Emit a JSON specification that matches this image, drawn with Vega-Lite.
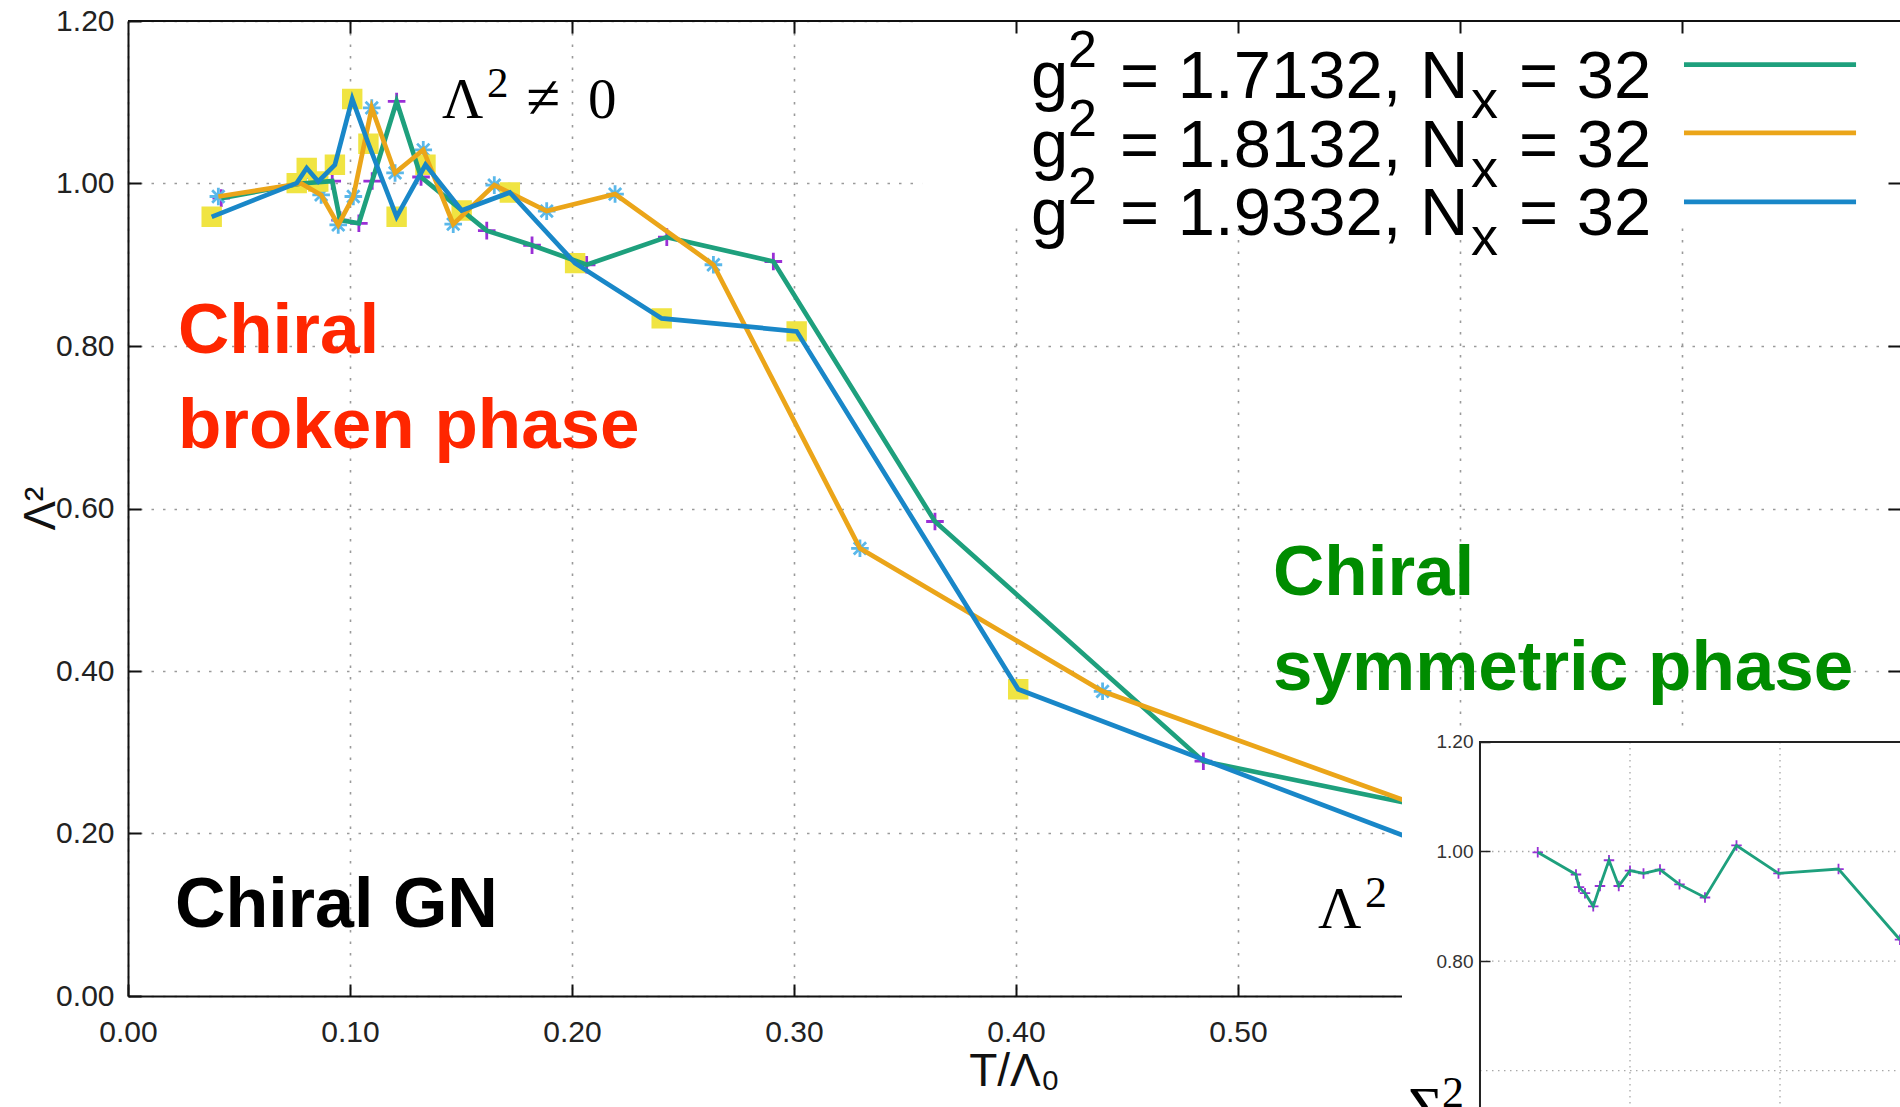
{
  "$schema": "https://vega.github.io/schema/vega-lite/v6.json",
  "width": 1772,
  "height": 975,
  "autosize": {"type": "none"},
  "padding": {"left": 128, "top": 21, "right": 0, "bottom": 111},
  "background": "white",
  "config": {
    "view": {"stroke": null, "fill": "white"},
    "font": "Liberation Sans"
  },
  "datasets": {
    "main": [
      {"series": "1.7132", "T": 0.042, "L2": 0.982},
      {"series": "1.7132", "T": 0.078, "L2": 1.0},
      {"series": "1.7132", "T": 0.092, "L2": 1.003},
      {"series": "1.7132", "T": 0.0955, "L2": 0.955},
      {"series": "1.7132", "T": 0.104, "L2": 0.951},
      {"series": "1.7132", "T": 0.11, "L2": 1.003},
      {"series": "1.7132", "T": 0.121, "L2": 1.101},
      {"series": "1.7132", "T": 0.132, "L2": 1.008},
      {"series": "1.7132", "T": 0.1616, "L2": 0.942},
      {"series": "1.7132", "T": 0.182, "L2": 0.924},
      {"series": "1.7132", "T": 0.2066, "L2": 0.9},
      {"series": "1.7132", "T": 0.2427, "L2": 0.934},
      {"series": "1.7132", "T": 0.2907, "L2": 0.904},
      {"series": "1.7132", "T": 0.3635, "L2": 0.584},
      {"series": "1.7132", "T": 0.4844, "L2": 0.289},
      {"series": "1.7132", "T": 0.6, "L2": 0.224},
      {"series": "1.8132", "T": 0.0407, "L2": 0.984},
      {"series": "1.8132", "T": 0.078, "L2": 1.0},
      {"series": "1.8132", "T": 0.087, "L2": 0.986},
      {"series": "1.8132", "T": 0.0947, "L2": 0.949},
      {"series": "1.8132", "T": 0.1015, "L2": 0.984},
      {"series": "1.8132", "T": 0.1098, "L2": 1.093},
      {"series": "1.8132", "T": 0.1203, "L2": 1.013},
      {"series": "1.8132", "T": 0.133, "L2": 1.0415},
      {"series": "1.8132", "T": 0.1465, "L2": 0.95},
      {"series": "1.8132", "T": 0.165, "L2": 0.998},
      {"series": "1.8132", "T": 0.1886, "L2": 0.966},
      {"series": "1.8132", "T": 0.2194, "L2": 0.987},
      {"series": "1.8132", "T": 0.2637, "L2": 0.9},
      {"series": "1.8132", "T": 0.3297, "L2": 0.551},
      {"series": "1.8132", "T": 0.439, "L2": 0.375},
      {"series": "1.8132", "T": 0.6, "L2": 0.216},
      {"series": "1.9332", "T": 0.0377, "L2": 0.959},
      {"series": "1.9332", "T": 0.076, "L2": 1.0005},
      {"series": "1.9332", "T": 0.0805, "L2": 1.019},
      {"series": "1.9332", "T": 0.0857, "L2": 1.0025},
      {"series": "1.9332", "T": 0.0932, "L2": 1.023},
      {"series": "1.9332", "T": 0.101, "L2": 1.104},
      {"series": "1.9332", "T": 0.1083, "L2": 1.049},
      {"series": "1.9332", "T": 0.121, "L2": 0.959},
      {"series": "1.9332", "T": 0.134, "L2": 1.023},
      {"series": "1.9332", "T": 0.1503, "L2": 0.9667},
      {"series": "1.9332", "T": 0.172, "L2": 0.989},
      {"series": "1.9332", "T": 0.2014, "L2": 0.902},
      {"series": "1.9332", "T": 0.2404, "L2": 0.834},
      {"series": "1.9332", "T": 0.3012, "L2": 0.818},
      {"series": "1.9332", "T": 0.401, "L2": 0.3775},
      {"series": "1.9332", "T": 0.6, "L2": 0.171}
    ],
    "inset": [
      {"T": 0.0385, "S2": 0.9985},
      {"T": 0.064, "S2": 0.958},
      {"T": 0.066, "S2": 0.935},
      {"T": 0.07, "S2": 0.924},
      {"T": 0.0755, "S2": 0.9},
      {"T": 0.08, "S2": 0.937},
      {"T": 0.086, "S2": 0.984},
      {"T": 0.0925, "S2": 0.937},
      {"T": 0.1, "S2": 0.965},
      {"T": 0.109, "S2": 0.96},
      {"T": 0.12, "S2": 0.967},
      {"T": 0.133, "S2": 0.94},
      {"T": 0.15, "S2": 0.916},
      {"T": 0.171, "S2": 1.011},
      {"T": 0.199, "S2": 0.96},
      {"T": 0.239, "S2": 0.968},
      {"T": 0.28, "S2": 0.839}
    ]
  },
  "resolve": {"scale": {"x": "independent", "y": "independent"}},
  "layer": [
    {
      "layer": [
        {
          "data": {"values": [{}]},
          "mark": {"type": "rect", "fill": "white"},
          "encoding": {
            "x": {"datum": 0.3577, "type": "quantitative"},
            "x2": {"datum": 0.7982},
            "y": {"datum": 0.9455, "type": "quantitative"},
            "y2": {"datum": 1.2}
          }
        },
        {
          "data": {"name": "main"},
          "mark": {"type": "point", "filled": true, "opacity": 1, "size": 310, "strokeWidth": 2.8},
          "encoding": {
            "x": {
              "field": "T", "type": "quantitative",
              "scale": {"domain": [0, 0.7982], "nice": false, "zero": false},
              "axis": {
                "values": [0, 0.1, 0.2, 0.3, 0.4, 0.5, 0.6, 0.7],
                "format": ".2f",
                "title": "T/Λ₀",
                "titleFontSize": 46, "titleFontWeight": "normal", "titleColor": "#111111",
                "titleY": 89, "titleBaseline": "alphabetic",
                "labelFontSize": 30, "labelColor": "#222222", "labelPadding": 33, "labelFlush": false,
                "tickSize": -12, "tickColor": "#111111", "tickWidth": 2,
                "domain": true, "domainColor": "#111111", "domainWidth": 2,
                "grid": true, "gridDash": [2.5, 9], "gridColor": "#9a9a9a", "gridWidth": 1.6
              }
            },
            "y": {
              "field": "L2", "type": "quantitative",
              "scale": {"domain": [0, 1.2], "nice": false, "zero": false},
              "axis": {
                "values": [0, 0.2, 0.4, 0.6, 0.8, 1.0, 1.2],
                "format": ".2f",
                "title": "Λ²",
                "titleFontSize": 44, "titleFontWeight": "normal", "titleColor": "#111111",
                "titleX": -74, "titleY": 487, "titleAngle": 270, "titleBaseline": "alphabetic", "titleAlign": "center",
                "labelFontSize": 30, "labelColor": "#222222", "labelPadding": 27, "labelFlush": false,
                "tickSize": -13, "tickColor": "#111111", "tickWidth": 2,
                "domain": true, "domainColor": "#111111", "domainWidth": 2,
                "grid": true, "gridDash": [2.5, 9], "gridColor": "#9a9a9a", "gridWidth": 1.6
              }
            },
            "shape": {
              "field": "series", "type": "nominal",
              "scale": {"domain": ["1.7132", "1.8132", "1.9332"], "range": ["M-1,0L1,0M0,-1L0,1", "M-1,0L1,0M0,-1L0,1M-0.7,-0.7L0.7,0.7M-0.7,0.7L0.7,-0.7", "square"]},
              "legend": null
            },
            "fill": {
              "field": "series", "type": "nominal",
              "scale": {"domain": ["1.7132", "1.8132", "1.9332"], "range": ["#9a2fd6", "#5ab8ea", "#f0e442"]},
              "legend": null
            },
            "stroke": {
              "field": "series", "type": "nominal",
              "scale": {"domain": ["1.7132", "1.8132", "1.9332"], "range": ["#9a2fd6", "#5ab8ea", "#f0e442"]},
              "legend": null
            }
          }
        },
        {
          "data": {"name": "main"},
          "mark": {"type": "line", "strokeWidth": 4.7, "strokeJoin": "miter"},
          "encoding": {
            "x": {"field": "T", "type": "quantitative"},
            "y": {"field": "L2", "type": "quantitative"},
            "color": {
              "field": "series", "type": "nominal",
              "scale": {"domain": ["1.7132", "1.8132", "1.9332"], "range": ["#1ea07d", "#eba519", "#1987c8"]},
              "legend": null
            }
          }
        },
        {
          "data": {"values": [{}]},
          "mark": {"type": "rule", "color": "#1ea07d", "strokeWidth": 4.7},
          "encoding": {"x": {"datum": 0.7009, "type": "quantitative"}, "x2": {"datum": 0.7784}, "y": {"datum": 1.1462, "type": "quantitative"}}
        },
        {
          "data": {"values": [{}]},
          "mark": {"type": "rule", "color": "#eba519", "strokeWidth": 4.7},
          "encoding": {"x": {"datum": 0.7009, "type": "quantitative"}, "x2": {"datum": 0.7784}, "y": {"datum": 1.0624, "type": "quantitative"}}
        },
        {
          "data": {"values": [{}]},
          "mark": {"type": "rule", "color": "#1987c8", "strokeWidth": 4.7},
          "encoding": {"x": {"datum": 0.7009, "type": "quantitative"}, "x2": {"datum": 0.7784}, "y": {"datum": 0.9774, "type": "quantitative"}}
        },
        {"data": {"values": [{}]}, "mark": {"type": "text", "text": "g", "align": "left", "baseline": "alphabetic", "fontSize": 67, "color": "#000000"},
         "encoding": {"x": {"datum": 0.4068, "type": "quantitative"}, "y": {"datum": 1.1055, "type": "quantitative"}}},
        {"data": {"values": [{}]}, "mark": {"type": "text", "text": "2", "align": "left", "baseline": "alphabetic", "fontSize": 52, "dx": 37, "dy": -31, "color": "#000000"},
         "encoding": {"x": {"datum": 0.4068, "type": "quantitative"}, "y": {"datum": 1.1055, "type": "quantitative"}}},
        {"data": {"values": [{}]}, "mark": {"type": "text", "text": "= 1.7132, N", "align": "left", "baseline": "alphabetic", "fontSize": 67, "dx": 89, "color": "#000000"},
         "encoding": {"x": {"datum": 0.4068, "type": "quantitative"}, "y": {"datum": 1.1055, "type": "quantitative"}}},
        {"data": {"values": [{}]}, "mark": {"type": "text", "text": "x", "align": "left", "baseline": "alphabetic", "fontSize": 54, "dx": 440, "dy": 20, "color": "#000000"},
         "encoding": {"x": {"datum": 0.4068, "type": "quantitative"}, "y": {"datum": 1.1055, "type": "quantitative"}}},
        {"data": {"values": [{}]}, "mark": {"type": "text", "text": "= 32", "align": "left", "baseline": "alphabetic", "fontSize": 67, "dx": 488, "color": "#000000"},
         "encoding": {"x": {"datum": 0.4068, "type": "quantitative"}, "y": {"datum": 1.1055, "type": "quantitative"}}},
        {"data": {"values": [{}]}, "mark": {"type": "text", "text": "g", "align": "left", "baseline": "alphabetic", "fontSize": 67, "color": "#000000"},
         "encoding": {"x": {"datum": 0.4068, "type": "quantitative"}, "y": {"datum": 1.0206, "type": "quantitative"}}},
        {"data": {"values": [{}]}, "mark": {"type": "text", "text": "2", "align": "left", "baseline": "alphabetic", "fontSize": 52, "dx": 37, "dy": -31, "color": "#000000"},
         "encoding": {"x": {"datum": 0.4068, "type": "quantitative"}, "y": {"datum": 1.0206, "type": "quantitative"}}},
        {"data": {"values": [{}]}, "mark": {"type": "text", "text": "= 1.8132, N", "align": "left", "baseline": "alphabetic", "fontSize": 67, "dx": 89, "color": "#000000"},
         "encoding": {"x": {"datum": 0.4068, "type": "quantitative"}, "y": {"datum": 1.0206, "type": "quantitative"}}},
        {"data": {"values": [{}]}, "mark": {"type": "text", "text": "x", "align": "left", "baseline": "alphabetic", "fontSize": 54, "dx": 440, "dy": 20, "color": "#000000"},
         "encoding": {"x": {"datum": 0.4068, "type": "quantitative"}, "y": {"datum": 1.0206, "type": "quantitative"}}},
        {"data": {"values": [{}]}, "mark": {"type": "text", "text": "= 32", "align": "left", "baseline": "alphabetic", "fontSize": 67, "dx": 488, "color": "#000000"},
         "encoding": {"x": {"datum": 0.4068, "type": "quantitative"}, "y": {"datum": 1.0206, "type": "quantitative"}}},
        {"data": {"values": [{}]}, "mark": {"type": "text", "text": "g", "align": "left", "baseline": "alphabetic", "fontSize": 67, "color": "#000000"},
         "encoding": {"x": {"datum": 0.4068, "type": "quantitative"}, "y": {"datum": 0.9366, "type": "quantitative"}}},
        {"data": {"values": [{}]}, "mark": {"type": "text", "text": "2", "align": "left", "baseline": "alphabetic", "fontSize": 52, "dx": 37, "dy": -31, "color": "#000000"},
         "encoding": {"x": {"datum": 0.4068, "type": "quantitative"}, "y": {"datum": 0.9366, "type": "quantitative"}}},
        {"data": {"values": [{}]}, "mark": {"type": "text", "text": "= 1.9332, N", "align": "left", "baseline": "alphabetic", "fontSize": 67, "dx": 89, "color": "#000000"},
         "encoding": {"x": {"datum": 0.4068, "type": "quantitative"}, "y": {"datum": 0.9366, "type": "quantitative"}}},
        {"data": {"values": [{}]}, "mark": {"type": "text", "text": "x", "align": "left", "baseline": "alphabetic", "fontSize": 54, "dx": 440, "dy": 20, "color": "#000000"},
         "encoding": {"x": {"datum": 0.4068, "type": "quantitative"}, "y": {"datum": 0.9366, "type": "quantitative"}}},
        {"data": {"values": [{}]}, "mark": {"type": "text", "text": "= 32", "align": "left", "baseline": "alphabetic", "fontSize": 67, "dx": 488, "color": "#000000"},
         "encoding": {"x": {"datum": 0.4068, "type": "quantitative"}, "y": {"datum": 0.9366, "type": "quantitative"}}},
        {"data": {"values": [{}]}, "mark": {"type": "text", "text": "Λ", "align": "left", "baseline": "alphabetic", "fontSize": 57, "font": "Liberation Serif", "color": "#000000"},
         "encoding": {"x": {"datum": 0.1414, "type": "quantitative"}, "y": {"datum": 1.081, "type": "quantitative"}}},
        {"data": {"values": [{}]}, "mark": {"type": "text", "text": "2", "align": "left", "baseline": "alphabetic", "fontSize": 43, "dx": 45, "dy": -21, "font": "Liberation Serif", "color": "#000000"},
         "encoding": {"x": {"datum": 0.1414, "type": "quantitative"}, "y": {"datum": 1.081, "type": "quantitative"}}},
        {"data": {"values": [{}]}, "mark": {"type": "text", "text": "≠", "align": "left", "baseline": "alphabetic", "fontSize": 62, "dx": 84, "font": "Liberation Serif", "color": "#000000"},
         "encoding": {"x": {"datum": 0.1414, "type": "quantitative"}, "y": {"datum": 1.081, "type": "quantitative"}}},
        {"data": {"values": [{}]}, "mark": {"type": "text", "text": "0", "align": "left", "baseline": "alphabetic", "fontSize": 57, "dx": 146, "font": "Liberation Serif", "color": "#000000"},
         "encoding": {"x": {"datum": 0.1414, "type": "quantitative"}, "y": {"datum": 1.081, "type": "quantitative"}}},
        {
          "data": {"values": [{}]},
          "mark": {"type": "text", "text": ["Chiral", "broken phase"], "lineHeight": 95, "align": "left", "baseline": "alphabetic", "fontSize": 71, "fontWeight": "bold", "color": "#ff2600"},
          "encoding": {"x": {"datum": 0.0225, "type": "quantitative"}, "y": {"datum": 0.7915, "type": "quantitative"}}
        },
        {
          "data": {"values": [{}]},
          "mark": {"type": "text", "text": "Chiral GN", "align": "left", "baseline": "alphabetic", "fontSize": 70, "fontWeight": "bold", "color": "#000000"},
          "encoding": {"x": {"datum": 0.0212, "type": "quantitative"}, "y": {"datum": 0.085, "type": "quantitative"}}
        },
        {
          "data": {"values": [{}]},
          "mark": {"type": "text", "text": ["Chiral", "symmetric phase"], "lineHeight": 95, "align": "left", "baseline": "alphabetic", "fontSize": 71, "fontWeight": "bold", "color": "#008c00"},
          "encoding": {"x": {"datum": 0.5158, "type": "quantitative"}, "y": {"datum": 0.4935, "type": "quantitative"}}
        },
        {"data": {"values": [{}]}, "mark": {"type": "text", "text": "Λ", "align": "left", "baseline": "alphabetic", "fontSize": 60, "font": "Liberation Serif", "color": "#000000"},
         "encoding": {"x": {"datum": 0.536, "type": "quantitative"}, "y": {"datum": 0.0834, "type": "quantitative"}}},
        {"data": {"values": [{}]}, "mark": {"type": "text", "text": "2", "align": "left", "baseline": "alphabetic", "fontSize": 44, "dx": 47, "dy": -21, "font": "Liberation Serif", "color": "#000000"},
         "encoding": {"x": {"datum": 0.536, "type": "quantitative"}, "y": {"datum": 0.0834, "type": "quantitative"}}}
      ]
    },
    {
      "layer": [
        {
          "data": {"values": [{}]},
          "mark": {"type": "rect", "fill": "white"},
          "encoding": {
            "x": {"datum": -0.052, "type": "quantitative", "scale": {"domain": [-0.9013, 0.28], "nice": false, "zero": false}, "axis": null},
            "x2": {"datum": 0.6},
            "y": {
              "datum": 1.2217, "type": "quantitative",
              "scale": {"domain": [0.7363, 2.5155], "nice": false, "zero": false},
              "axis": {
                "orient": "left", "offset": -1352, "zindex": 1,
                "values": [0.6, 0.8, 1.0, 1.2], "format": ".2f", "title": null,
                "labelFontSize": 19, "labelColor": "#333333", "labelPadding": 17,
                "tickSize": -10, "tickColor": "#222222", "tickWidth": 1.5,
                "domain": false, "grid": false
              }
            },
            "y2": {"datum": 0.3}
          }
        },
        {
          "data": {"values": [{}]},
          "mark": {"type": "rule", "color": "#a8a8a8", "strokeWidth": 1.3, "strokeDash": [1.5, 4.5]},
          "encoding": {"x": {"datum": 0, "type": "quantitative"}, "x2": {"datum": 0.6}, "y": {"datum": 1.0, "type": "quantitative"}}
        },
        {
          "data": {"values": [{}]},
          "mark": {"type": "rule", "color": "#a8a8a8", "strokeWidth": 1.3, "strokeDash": [1.5, 4.5]},
          "encoding": {"x": {"datum": 0, "type": "quantitative"}, "x2": {"datum": 0.6}, "y": {"datum": 0.8, "type": "quantitative"}}
        },
        {
          "data": {"values": [{}]},
          "mark": {"type": "rule", "color": "#a8a8a8", "strokeWidth": 1.3, "strokeDash": [1.5, 4.5]},
          "encoding": {"x": {"datum": 0, "type": "quantitative"}, "x2": {"datum": 0.6}, "y": {"datum": 0.6, "type": "quantitative"}}
        },
        {
          "data": {"values": [{}]},
          "mark": {"type": "rule", "color": "#a8a8a8", "strokeWidth": 1.3, "strokeDash": [1.5, 4.5]},
          "encoding": {"x": {"datum": 0.1, "type": "quantitative"}, "y": {"datum": 1.2, "type": "quantitative"}, "y2": {"datum": 0.3}}
        },
        {
          "data": {"values": [{}]},
          "mark": {"type": "rule", "color": "#a8a8a8", "strokeWidth": 1.3, "strokeDash": [1.5, 4.5]},
          "encoding": {"x": {"datum": 0.2, "type": "quantitative"}, "y": {"datum": 1.2, "type": "quantitative"}, "y2": {"datum": 0.3}}
        },
        {
          "data": {"values": [{}]},
          "mark": {"type": "rect", "fill": null, "fillOpacity": 0, "stroke": "#222222", "strokeWidth": 2},
          "encoding": {
            "x": {"datum": 0, "type": "quantitative"},
            "x2": {"datum": 0.6},
            "y": {"datum": 1.2, "type": "quantitative"},
            "y2": {"datum": 0.3}
          }
        },
        {
          "data": {"name": "inset"},
          "mark": {"type": "point", "shape": "M-1,0L1,0M0,-1L0,1", "size": 110, "strokeWidth": 1.8, "stroke": "#9a2fd6", "opacity": 1, "filled": false},
          "encoding": {
            "x": {"field": "T", "type": "quantitative"},
            "y": {"field": "S2", "type": "quantitative"}
          }
        },
        {
          "data": {"name": "inset"},
          "mark": {"type": "line", "color": "#1ea07d", "strokeWidth": 2.8, "strokeJoin": "miter"},
          "encoding": {
            "x": {"field": "T", "type": "quantitative"},
            "y": {"field": "S2", "type": "quantitative"}
          }
        },
        {"data": {"values": [{}]}, "mark": {"type": "text", "text": "Σ", "align": "left", "baseline": "alphabetic", "fontSize": 60, "font": "Liberation Serif", "color": "#000000"},
         "encoding": {"x": {"datum": -0.048, "type": "quantitative"}, "y": {"datum": 0.4954, "type": "quantitative"}}},
        {"data": {"values": [{}]}, "mark": {"type": "text", "text": "2", "align": "left", "baseline": "alphabetic", "fontSize": 44, "dx": 34, "dy": -21, "font": "Liberation Serif", "color": "#000000"},
         "encoding": {"x": {"datum": -0.048, "type": "quantitative"}, "y": {"datum": 0.4954, "type": "quantitative"}}}
      ]
    },
    {
      "data": {"values": [{}]},
      "mark": {"type": "rule", "color": "#111111", "strokeWidth": 2},
      "encoding": {
        "x": {
          "datum": 0, "type": "quantitative",
          "scale": {"domain": [0, 0.7982], "nice": false, "zero": false},
          "axis": {
            "orient": "top", "zindex": 1, "values": [0.1, 0.2, 0.3, 0.4, 0.5, 0.6, 0.7],
            "labels": false, "title": null, "domain": false, "grid": false,
            "tickSize": -12, "tickColor": "#111111", "tickWidth": 2
          }
        },
        "x2": {"datum": 0.7982},
        "y": {
          "datum": 1.2, "type": "quantitative",
          "scale": {"domain": [0, 1.2], "nice": false, "zero": false},
          "axis": {
            "orient": "right", "zindex": 1, "values": [0.4, 0.6, 0.8, 1.0],
            "labels": false, "title": null, "domain": false, "grid": false,
            "tickSize": -12, "tickColor": "#111111", "tickWidth": 2
          }
        }
      }
    }
  ]
}
